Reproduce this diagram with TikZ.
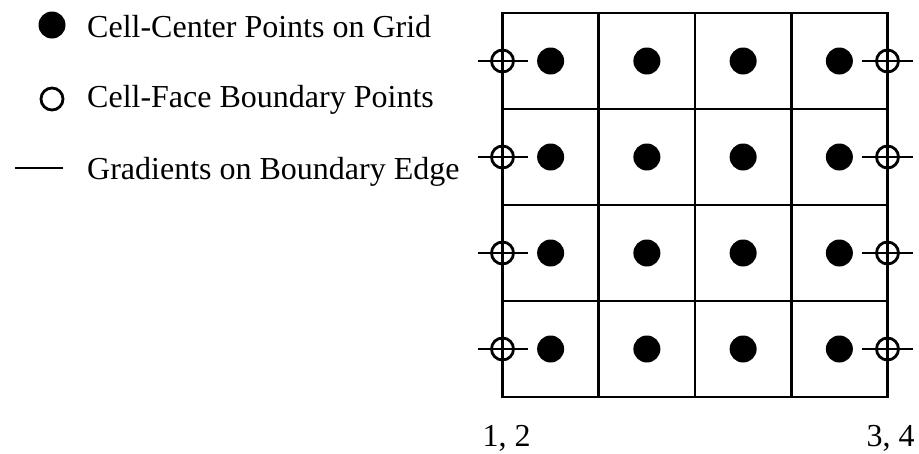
\documentclass[tikz,border=0pt]{standalone}
\usepackage{fontspec}
\setmainfont{Liberation Serif}

\begin{document}
\begin{tikzpicture}[x=1pt,y=-1pt,
    cellpt/.style={circle,fill,inner sep=0pt,minimum size=27pt},
    facept/.style={circle,draw,line width=2.8pt,inner sep=0pt,minimum size=22pt},
    gradline/.style={line width=2.9pt},
    gridline/.style={line width=2.9pt},
    bigtext/.style={anchor=base west,inner sep=0pt,font=\fontsize{32}{38}\selectfont}]

    \useasboundingbox (0,0) rectangle (919,453);

    % legend
    \node[cellpt] (keycell) at (52,25) {};
    \node[bigtext] (keycelltxt) at (87,37) {Cell-Center Points on Grid};

    \node[facept] (keyface) at (52,99) {};
    \node[bigtext] (keyfacetxt) at (87,107) {Cell-Face Boundary Points};

    \coordinate (keygrada) at (15,168);
    \coordinate (keygradb) at (63,168);
    \draw[gradline] (keygrada) -- (keygradb);
    \node[bigtext] (keygradtxt) at (87,179) {Gradients on Boundary Edge};

    % grid
    \foreach \i in {0,...,4} {
        \coordinate (top\i) at (502.5+96.25*\i,13);
        \coordinate (bot\i) at (502.5+96.25*\i,397);
        \coordinate (lft\i) at (502.5,13+96*\i);
        \coordinate (rgt\i) at (887.5,13+96*\i);
        \draw[gridline,line cap=rect] (top\i) -- (bot\i);
        \draw[gridline,line cap=rect] (lft\i) -- (rgt\i);
    }

    % cell centres
    \foreach \r in {1,...,4} {
        \foreach \c in {1,...,4} {
            \node[cellpt] (cell\r\c) at (502.5+96.25*\c-48.125,13+96*\r-48) {};
        }
    }

    % boundary faces with gradients
    \foreach \r in {1,...,4} {
        \node[facept] (west\r) at (502.5,13+96*\r-48) {};
        \node[facept] (east\r) at (887.5,13+96*\r-48) {};
        \coordinate (westa\r) at (478,13+96*\r-48);
        \coordinate (westb\r) at (528,13+96*\r-48);
        \coordinate (easta\r) at (862,13+96*\r-48);
        \coordinate (eastb\r) at (913,13+96*\r-48);
        \draw[gradline] (westa\r) -- (westb\r);
        \draw[gradline] (easta\r) -- (eastb\r);
    }

    \node[bigtext] (westlbl) at (482.5,446) {1, 2};
    \node[bigtext] (eastlbl) at (866.5,446) {3, 4};

\end{tikzpicture}
\end{document}
